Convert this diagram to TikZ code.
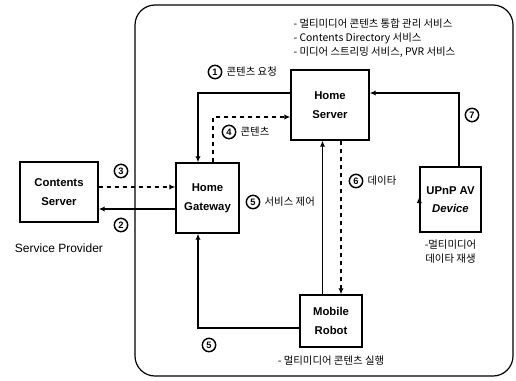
\documentclass[tikz,border=0pt]{standalone}
\usepackage{fontspec}
\setmainfont{Liberation Sans}
\newfontfamily\kr{Noto Sans CJK KR}
\usetikzlibrary{calc,arrows.meta,positioning}

\tikzset{
  box/.style={draw, rectangle, line width=1.1pt, align=center, font=\fontsize{8.5}{14}\selectfont\bfseries},
  num/.style={draw, circle, line width=1.1pt, inner sep=0pt, minimum size=10pt, font=\fontsize{7}{7}\selectfont\bfseries},
  note/.style={font=\kr\fontsize{7.8}{10.5}\selectfont, inner sep=1pt},
  link/.style={line width=0.9pt, -{Latex[length=4.5pt,width=4pt]}},
}

\begin{document}
\begin{tikzpicture}[x=0.75pt, y=0.75pt]
    \useasboundingbox (0,0) rectangle (516,380);
    % home network area
    \draw[line width=0.9pt, rounded corners=15pt] (135,4) rectangle (513,375);

    \node[box, minimum width=58.5pt, minimum height=45pt] (cs) at (59,188) {Contents\\Server};
    \node[box, minimum width=47.25pt, minimum height=52.5pt] (hg) at (207.5,182) {Home\\Gateway};
    \node[box, minimum width=58.5pt, minimum height=52.5pt] (hs) at (330,275) {Home\\Server};
    \node[box, minimum width=45.75pt, minimum height=48.75pt] (up) at (450.5,180.5) {UPnP AV\\\itshape Device};
    \node[box, minimum width=46.5pt, minimum height=39pt] (mr) at (331,59) {Mobile\\Robot};

    \node[font=\fontsize{9}{11}\selectfont, below=12pt of cs] (sp) {Service Provider};
    \node[note, align=left, anchor=north west] (hsnote) at (292,363) {- 멀티미디어 콘텐츠 통합 관리 서비스\\- Contents Directory 서비스\\- 미디어 스트리밍 서비스, PVR 서비스};
    \node[note, align=center, below=4pt of up] (upnote) {-멀티미디어\\데이타 재생};
    \node[note, below=5pt of mr] (mrnote) {- 멀티미디어 콘텐츠 실행};

    % 1: request
    \draw[link] ($(hs.west)+(0,12)$) -| ($(hg.north)+(-9.5,0)$);
    \node[num] (n1) at (215,308) {1};
    \node[note, right=2pt of n1] (l1) {콘텐츠 요청};
    % 2, 3: contents server
    \coordinate (p2) at ($(hg.west)+(0,-11)$);
    \coordinate (p3) at ($(cs.east)+(0,5)$);
    \draw[link] (p2) -- (p2 -| cs.east);
    \draw[link, dashed] (p3) -- (p3 -| hg.west);
    \node[num] (n3) at (121,209) {3};
    \node[num] (n2) at (121,155) {2};
    % 4: contents
    \draw[link, dashed] ($(hg.north)+(5.5,0)$) |- ($(hs.west)+(0,-12)$);
    \node[num] (n4) at (229,248) {4};
    \node[note, right=2pt of n4] (l4) {콘텐츠};
    % 5: service control
    \coordinate (v5) at ($(hs.south)+(-7.5,0)$);
    \draw[link] (v5 |- mr.north) -- (v5);
    \draw[line width=0.9pt] ($(hg.east)+(0,10)$) -- ($(hg.east)+(0,10)$ -| v5);
    \node[num] (n5) at (253,178) {5};
    \node[note, right=2pt of n5] (l5) {서비스 제어};
    \draw[link] ($(mr.west)+(0,-7)$) -| ($(hg.south)+(-9.5,0)$);
    \node[num] (n5b) at (209,35) {5};
    % 6: data
    \coordinate (v6) at ($(hs.south)+(11,0)$);
    \draw[link, dashed] (v6) -- (v6 |- mr.north);
    \draw[link, dashed] ($(up.west)+(0,2.5)$ -| v6) -- ($(up.west)+(0,2.5)$);
    \node[num] (n6) at (356,199) {6};
    \node[note, right=2pt of n6] (l6) {데이타};
    % 7
    \draw[link] ($(up.north)+(8.5,0)$) |- ($(hs.east)+(0,12)$);
    \node[num] (n7) at (472,265) {7};
\end{tikzpicture}
\end{document}
